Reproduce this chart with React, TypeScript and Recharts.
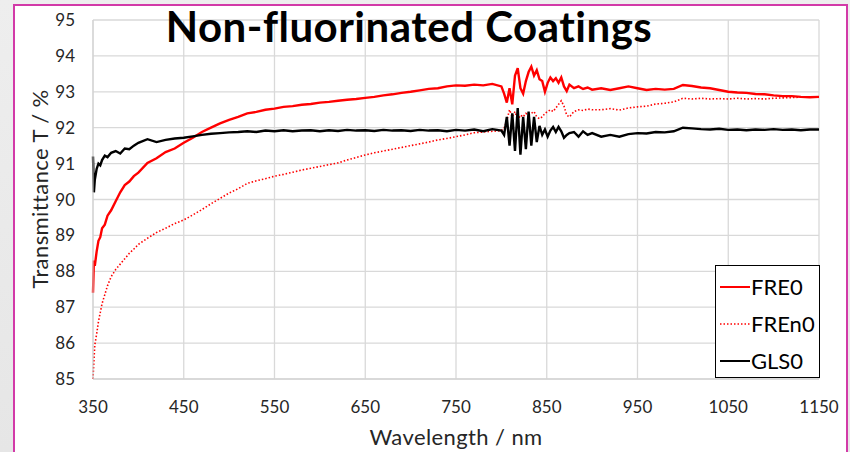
import { LineChart, Line, XAxis, YAxis, CartesianGrid } from "recharts"

// wavelength in nm (denser where the curves are steep or noisy)
const wavelengths = [
  350, 351, 352, 354, 356, 358, 360, 363, 366, 370, 375, 380, 385, 390, 395, 400,
  410, 420, 430, 440, 450, 460, 470, 480, 490, 500,
  510, 520, 530, 540, 550, 560, 570, 580, 590, 600,
  610, 620, 630, 640, 650, 660, 670, 680, 690, 700,
  710, 720, 730, 740, 750, 760, 770, 780, 790, 800,
  803, 806, 809, 812, 815, 818, 821, 824, 827, 830,
  833, 836, 839, 842, 845, 848, 851, 854, 857, 860,
  863, 866, 869, 872, 875,
  880, 885, 890, 895, 900,
  910, 920, 930, 940, 950, 960, 970, 980, 990, 1000,
  1010, 1020, 1030, 1040, 1050, 1060, 1070, 1080, 1090, 1100,
  1110, 1120, 1130, 1140, 1150
]

const fre0 = [
  87.4, 88.3, 88.15, 88.55, 88.85, 88.95, 89.2, 89.3, 89.55, 89.7, 89.95, 90.2, 90.4, 90.5, 90.65, 90.75,
  91.02, 91.15, 91.32, 91.42, 91.58, 91.72, 91.88, 92.0, 92.12, 92.22,
  92.3, 92.4, 92.44, 92.5, 92.53, 92.58, 92.6, 92.64, 92.66, 92.7,
  92.72, 92.75, 92.78, 92.8, 92.83, 92.86, 92.9, 92.93, 92.97, 93.0,
  93.04, 93.08, 93.1, 93.15, 93.18, 93.17, 93.2, 93.18, 93.22, 93.15,
  92.95, 92.7, 93.1, 92.65, 93.45, 93.66, 93.1, 92.95, 93.3, 93.55,
  93.7, 93.45, 93.6, 93.35, 93.3, 93.0, 93.25, 93.4, 93.3, 93.38,
  93.25, 93.4, 93.15, 93.02, 93.2,
  93.1, 93.15, 93.08, 93.12, 93.06,
  93.1, 93.05, 93.1, 93.15, 93.1, 93.05, 93.08, 93.06, 93.08, 93.19,
  93.16, 93.12, 93.1, 93.05, 93.0, 92.98, 92.97, 92.94, 92.93, 92.9,
  92.88, 92.88, 92.86, 92.85, 92.86
]

const fren0 = [
  85.0, 85.5, 85.95, 86.25, 86.6, 86.85, 87.1, 87.35, 87.6, 87.85, 88.05, 88.2, 88.35, 88.5, 88.62, 88.75,
  88.92, 89.08, 89.2, 89.33, 89.43, 89.57, 89.72, 89.88, 90.03, 90.18,
  90.3, 90.45, 90.52, 90.58, 90.65, 90.7, 90.76, 90.82, 90.87, 90.92,
  90.97, 91.02, 91.1, 91.17, 91.24, 91.3, 91.35, 91.4, 91.45, 91.5,
  91.55, 91.6, 91.66, 91.7, 91.75, 91.8, 91.86, 91.88, 91.9, 91.92,
  91.98, 92.2, 92.5, 92.3, 92.45, 92.2, 92.35, 92.3, 92.4, 92.35,
  92.4, 92.45, 92.3, 92.25, 92.3, 92.4, 92.45, 92.5, 92.45, 92.55,
  92.65, 92.75, 92.6, 92.35, 92.3,
  92.45, 92.5, 92.48, 92.52, 92.5,
  92.5, 92.53, 92.49, 92.55, 92.58, 92.6, 92.66, 92.68, 92.72, 92.82,
  92.8, 92.82, 92.8, 92.81, 92.8, 92.82, 92.8, 92.81, 92.8, 92.82,
  92.83, 92.84, 92.85, 92.85, 92.86
]

const gls0 = [
  91.2, 90.2, 90.55, 90.85, 91.0, 90.95, 91.1, 91.22, 91.18, 91.3, 91.35, 91.28, 91.42, 91.4, 91.5, 91.58,
  91.68, 91.6, 91.66, 91.7, 91.72, 91.76, 91.8, 91.83, 91.85, 91.87,
  91.88, 91.9, 91.88, 91.92, 91.9, 91.93, 91.9, 91.92, 91.93, 91.9,
  91.93, 91.91, 91.94, 91.92, 91.93, 91.91, 91.94, 91.92, 91.93, 91.91,
  91.94, 91.92, 91.93, 91.9, 91.94, 91.92, 91.95, 91.9, 91.96, 91.92,
  91.8, 92.3, 91.5, 92.4, 91.35, 92.55, 91.25, 92.3, 91.4, 92.45,
  91.5, 92.3, 91.6, 92.05, 91.8, 91.95, 91.75, 91.92, 92.02, 91.88,
  92.02, 91.9, 91.72, 91.8, 91.85,
  91.88, 91.75, 91.9, 91.8, 91.85,
  91.75, 91.8, 91.75, 91.82, 91.85, 91.84, 91.88, 91.87, 91.9, 92.0,
  91.98, 91.96, 91.95, 91.97, 91.94, 91.95, 91.93, 91.95, 91.94, 91.96,
  91.94, 91.95, 91.93, 91.95, 91.95
]

const xTicks = [350, 450, 550, 650, 750, 850, 950, 1050, 1150]
const yTicks = [85, 86, 87, 88, 89, 90, 91, 92, 93, 94, 95]

const series = [
  { key: "FRE0", color: "#ff0000", dash: undefined as string | undefined },
  { key: "FREn0", color: "#ff0000", dash: "1.5 2" },
  { key: "GLS0", color: "#000000", dash: undefined as string | undefined }
]

const data = wavelengths.map((wl, i) => ({
  wl,
  FRE0: fre0[i],
  FREn0: fren0[i],
  GLS0: gls0[i]
}))

const font = "Lato, 'Liberation Sans', sans-serif"
const tickStyle = { fontSize: 17, fill: "#262626", fontFamily: font }
const frameColor = "#d23aa8"

export default function App() {
  return (
    <div
      style={{
        position: "fixed",
        left: 0,
        top: 0,
        width: 850,
        height: 452,
        overflow: "hidden",
        background: "linear-gradient(180deg, #eeeeee, #e6e6e6)",
        fontFamily: font
      }}
    >
      <div
        style={{
          position: "absolute",
          left: 13,
          top: 4,
          width: 835,
          height: 470,
          boxSizing: "border-box",
          background: "#fff",
          borderTop: `2px solid ${frameColor}`,
          borderLeft: `2px solid ${frameColor}`,
          borderRight: `2px solid ${frameColor}`
        }}
      />
      <div style={{ position: "absolute", left: 0, top: 0 }}>
        <LineChart
          width={850}
          height={452}
          data={data}
          margin={{ top: 20, right: 31, left: 33, bottom: 3 }}
        >
          <CartesianGrid stroke="#d9d9d9" strokeWidth={1.3} />
          <XAxis
            dataKey="wl"
            type="number"
            domain={[350, 1150]}
            ticks={xTicks}
            height={70}
            axisLine={{ stroke: "#d0d0d0" }}
            tickLine={false}
            tickMargin={16}
            tick={tickStyle}
          />
          <YAxis
            type="number"
            domain={[85, 95]}
            ticks={yTicks}
            width={60}
            axisLine={{ stroke: "#d0d0d0" }}
            tickLine={false}
            tickMargin={12}
            tick={tickStyle}
          />
          {series.map((s) => (
            <Line
              key={s.key}
              dataKey={s.key}
              type="linear"
              stroke={s.color}
              strokeWidth={s.dash ? 1.6 : 2.4}
              strokeDasharray={s.dash}
              dot={false}
              isAnimationActive={false}
            />
          ))}
        </LineChart>
      </div>
      <svg
        width={850}
        height={452}
        style={{ position: "absolute", left: 0, top: 0, pointerEvents: "none" }}
        fontFamily={font}
      >
        <text x={409} y={42} textAnchor="middle" fontSize={42} fontWeight={700} letterSpacing={0.5} fill="#000">
          Non-fluorinated Coatings
        </text>
        <text x={456} y={445} textAnchor="middle" fontSize={22} letterSpacing={0.4} fill="#262626">
          Wavelength / nm
        </text>
        <text
          x={48}
          y={189}
          textAnchor="middle"
          fontSize={22}
          letterSpacing={0.4}
          fill="#262626"
          transform="rotate(-90 48 189)"
        >
          Transmittance T / %
        </text>
      </svg>
      <div
        style={{
          position: "absolute",
          left: 715,
          top: 265,
          width: 105,
          height: 113,
          boxSizing: "border-box",
          border: "1px solid #000",
          background: "#fff",
          paddingTop: 2
        }}
      >
        {series.map((s) => (
          <div key={s.key} style={{ display: "flex", alignItems: "center", height: 37 }}>
            <svg width={34} height={10} style={{ marginLeft: 4 }}>
              <line
                x1={0}
                y1={5}
                x2={30}
                y2={5}
                stroke={s.color}
                strokeWidth={s.dash ? 1.6 : 2}
                strokeDasharray={s.dash}
              />
            </svg>
            <span style={{ fontSize: 22, color: "#000", marginLeft: -3 }}>{s.key}</span>
          </div>
        ))}
      </div>
    </div>
  )
}
